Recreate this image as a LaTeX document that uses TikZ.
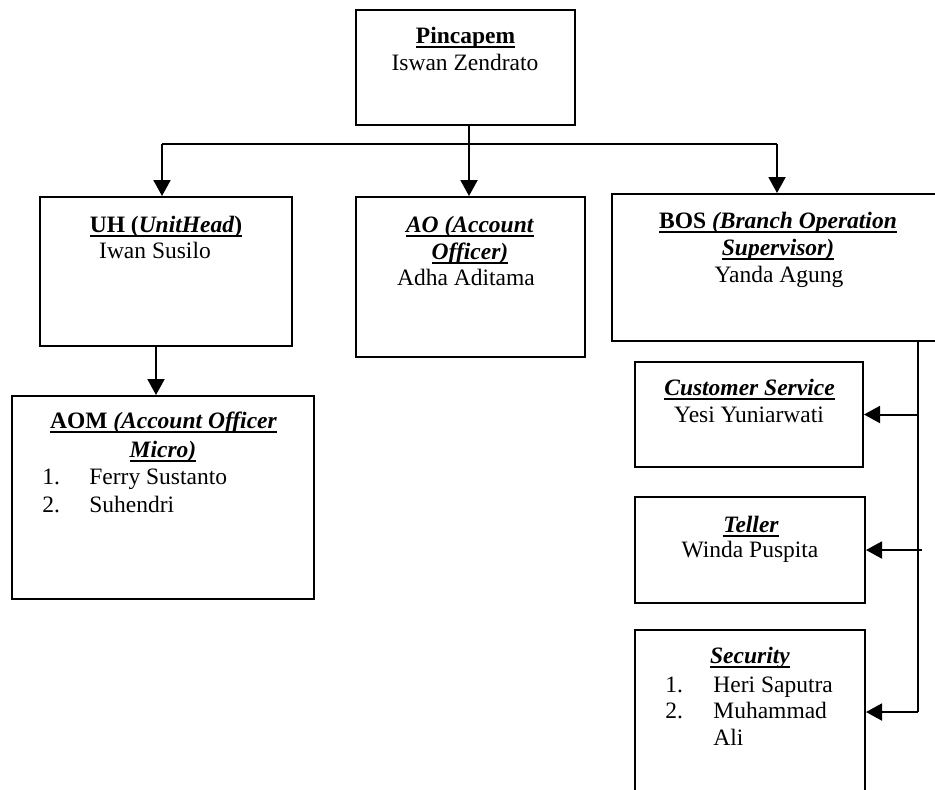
\documentclass[tikz,border=0pt]{standalone}
\usepackage{fontspec}
\setmainfont{Liberation Serif}
\usetikzlibrary{arrows.meta}
\newsavebox\ulbox
\newcommand\ulx[1]{\sbox\ulbox{#1}\rlap{\rule[-2.6pt]{\wd\ulbox}{0.9pt}}\usebox\ulbox}
\tikzset{
  box/.style={draw, line width=1pt, inner sep=0pt},
  txt/.style={inner sep=0pt, anchor=base},
  ltxt/.style={inner sep=0pt, anchor=base west},
  conn/.style={line width=0.8pt},
  arr/.style={line width=1pt, -{Triangle[width=8.5pt,length=8pt]}},
  every node/.style={font=\fontsize{11.75}{13.5}\selectfont}
}
\begin{document}
\begin{tikzpicture}[x=0.5pt,y=-0.5pt]
\clip (0,0) rectangle (935,789);
% boxes
\node[box, minimum width=109.5pt, minimum height=57.5pt] (P) at (465.5,67.5) {};
\node[box, minimum width=126pt, minimum height=74.5pt] (UH) at (166,271.5) {};
\node[box, minimum width=151pt, minimum height=101.5pt] (AOM) at (163,497.5) {};
\node[box, minimum width=114.5pt, minimum height=80pt] (AO) at (470.5,277) {};
\node[box, minimum width=166pt, minimum height=73.5pt] (BOS) at (778,267.5) {};
\node[box, minimum width=114pt, minimum height=52.5pt] (CS) at (749,414.5) {};
\node[box, minimum width=115pt, minimum height=53pt] (TL) at (750,550) {};
\node[box, minimum width=115pt, minimum height=100pt] (SC) at (750,730) {};
% texts
\node[txt] (p1) at (465.5,43) {\ulx{\textbf{Pincapem}}};
\node[txt] (p2) at (465,70) {Iswan Zendrato};
\node[txt] (u1) at (166,232) {\ulx{\textbf{UH (\textit{UnitHead})}}};
\node[txt] (u2) at (155,258) {Iwan Susilo};
\node[txt] (m1) at (163.5,428) {\ulx{\textbf{AOM \textit{(Account Officer}}}};
\node[txt] (m2) at (163,457) {\ulx{\textbf{\textit{Micro)}}}};
\node[ltxt] (m3n) at (42,484) {1.};
\node[ltxt] (m3) at (89,484) {Ferry Sustanto};
\node[ltxt] (m4n) at (42,512) {2.};
\node[ltxt] (m4) at (89,512) {Suhendri};
\node[txt] (a1) at (470,232) {\ulx{\textbf{\textit{AO (Account}}}};
\node[txt] (a2) at (470,259) {\ulx{\textbf{\textit{Officer)}}}};
\node[txt] (a3) at (466,285) {Adha Aditama};
\node[txt] (b1) at (778,228) {\ulx{\textbf{BOS \textit{(Branch Operation}}}};
\node[txt] (b2) at (778,255) {\ulx{\textbf{\textit{Supervisor)}}}};
\node[txt] (b3) at (779,282) {Yanda Agung};
\node[txt] (c1) at (749.5,395) {\ulx{\textbf{\textit{Customer Service}}}};
\node[txt] (c2) at (749,422) {Yesi Yuniarwati};
\node[txt] (t1) at (751,532) {\ulx{\textbf{\textit{Teller}}}};
\node[txt] (t2) at (750,557) {Winda Puspita};
\node[txt] (s1) at (750,663) {\ulx{\textbf{\textit{Security}}}};
\node[ltxt] (s2n) at (665,692) {1.};
\node[ltxt] (s2) at (713,692) {Heri Saputra};
\node[ltxt] (s3n) at (665,718) {2.};
\node[ltxt] (s3) at (713,718) {Muhammad};
\node[ltxt] (s4) at (713,745) {Ali};
% connectors
\coordinate (j) at (469,144);
\coordinate (hl) at (162,144);
\coordinate (hr) at (777,144);
\draw[conn] (P.south -| j) -- (j);
\draw[conn] (hl) -- (hr);
\draw[arr] (hl) -- (hl |- UH.north);
\draw[arr] (j) -- (j |- AO.north);
\draw[arr] (hr) -- (hr |- BOS.north);
\coordinate (ua) at (156,346);
\draw[arr] (ua) -- (ua |- AOM.north);
\coordinate (bus) at (918,712);
\coordinate (tr) at (922,550);
\draw[conn] (bus |- BOS.south) -- (bus);
\draw[arr] (bus |- CS.east) -- (CS.east);
\draw[arr] (tr) -- (TL.east);
\draw[arr] (bus) -- (bus -| SC.east);
\end{tikzpicture}
\end{document}
